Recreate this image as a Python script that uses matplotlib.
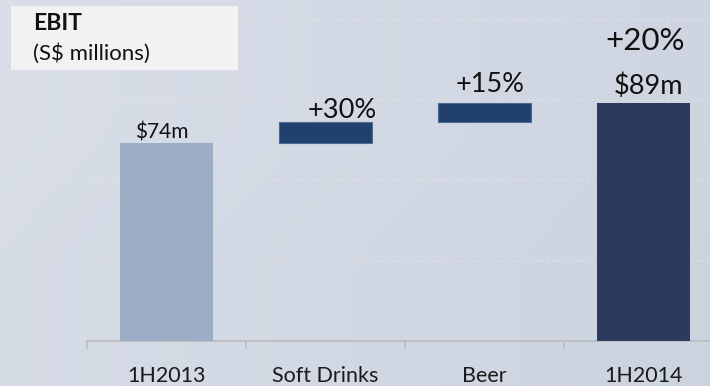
import matplotlib.pyplot as plt
import numpy as np
from matplotlib.patches import Rectangle

# data (S$ millions)
categories = ["1H2013", "Soft Drinks", "Beer", "1H2014"]
start_value = 74
increments = [8, 7]
end_value = 89
value_labels = ["$74m", "$89m"]
growth_labels = ["+30%", "+15%", "+20%"]

plt.rcParams['font.family'] = ['Lato', 'DejaVu Sans']

fig = plt.figure(figsize=(7.1, 3.86), dpi=100)

# background gradient
bg = fig.add_axes([0, 0, 1, 1], zorder=-10)
c0 = np.array([0.850, 0.870, 0.910])
c1 = np.array([0.800, 0.830, 0.875])
gx = np.linspace(0, 1, 256)
gy = np.linspace(0, 1, 2)
t = (gx[None, :] * 0.85 + gy[:, None] * 0.15)
grad = c0[None, None, :] * (1 - t[..., None]) + c1[None, None, :] * t[..., None]
bg.imshow(grad, aspect='auto', extent=[0, 1, 0, 1], origin='upper')
bg.axis('off')

ax = fig.add_axes([87 / 710, 45 / 386, 1 - 87 / 710, 341 / 386])
ax.patch.set_alpha(0)

x = np.arange(len(categories))
w = 0.59

# totals
ax.bar(x[0], start_value, width=w, color='#9baec6', zorder=3)
ax.bar(x[3], end_value, width=w, color='#2c3a5e', zorder=3)

# floating bars
bottoms = np.cumsum([start_value] + increments[:-1])
ax.bar(x[1:3], increments, bottom=bottoms, width=w, color='#22406e',
       edgecolor='#4a6a98', linewidth=0.8, zorder=3)

ax.set_yticks([30, 60, 90, 120])
ax.yaxis.grid(True, linestyle=(0, (1, 2)), color='#e2e2e2', linewidth=1.2)
ax.set_axisbelow(True)
ax.tick_params(axis='y', left=False, labelleft=False)

ax.set_xticks(x)
ax.set_xticklabels(categories, fontsize=15.5, color='#1a1a1a')
ax.set_xticks(np.arange(-0.5, 3.5, 1), minor=True)
ax.tick_params(axis='x', which='major', length=0, pad=18)
ax.tick_params(axis='x', which='minor', length=5.8, width=1.2, color='#bcbcbc')

ax.set_xlim(-0.5, 3.418)
ax.set_ylim(0, 341 / 2.675)

for s in ['top', 'right', 'left']:
    ax.spines[s].set_visible(False)
ax.spines['bottom'].set_color('#bcbcbc')
ax.spines['bottom'].set_linewidth(1.2)

# value labels
ax.text(-0.03, 75.6, value_labels[0], ha='center', va='baseline', fontsize=15, color='#111111')
ax.text(3.03, 92.4, value_labels[1], ha='center', va='baseline', fontsize=19.5, color='#111111')
ax.text(1.104, 83.4, growth_labels[0], ha='center', va='baseline', fontsize=19.5, color='#111111')
ax.text(2.035, 93.2, growth_labels[1], ha='center', va='baseline', fontsize=19.5, color='#111111')
ax.text(3.01, 108.8, growth_labels[2], ha='center', va='baseline', fontsize=22.5, color='#111111')

# title box
fig.patches.append(Rectangle((11 / 710, 1 - 70 / 386), 227 / 710, 64 / 386,
                             transform=fig.transFigure, facecolor='#f2f2f2',
                             edgecolor='none', zorder=5))
fig.text(33 / 710, 1 - 30 / 386, "EBIT", fontsize=16.5, fontweight='bold',
         va='baseline', ha='left', color='#111111', zorder=6)
fig.text(33 / 710, 1 - 60 / 386, "(S$ millions)", fontsize=16,
         va='baseline', ha='left', color='#111111', zorder=6)

fig.savefig('out.png', dpi=100)
